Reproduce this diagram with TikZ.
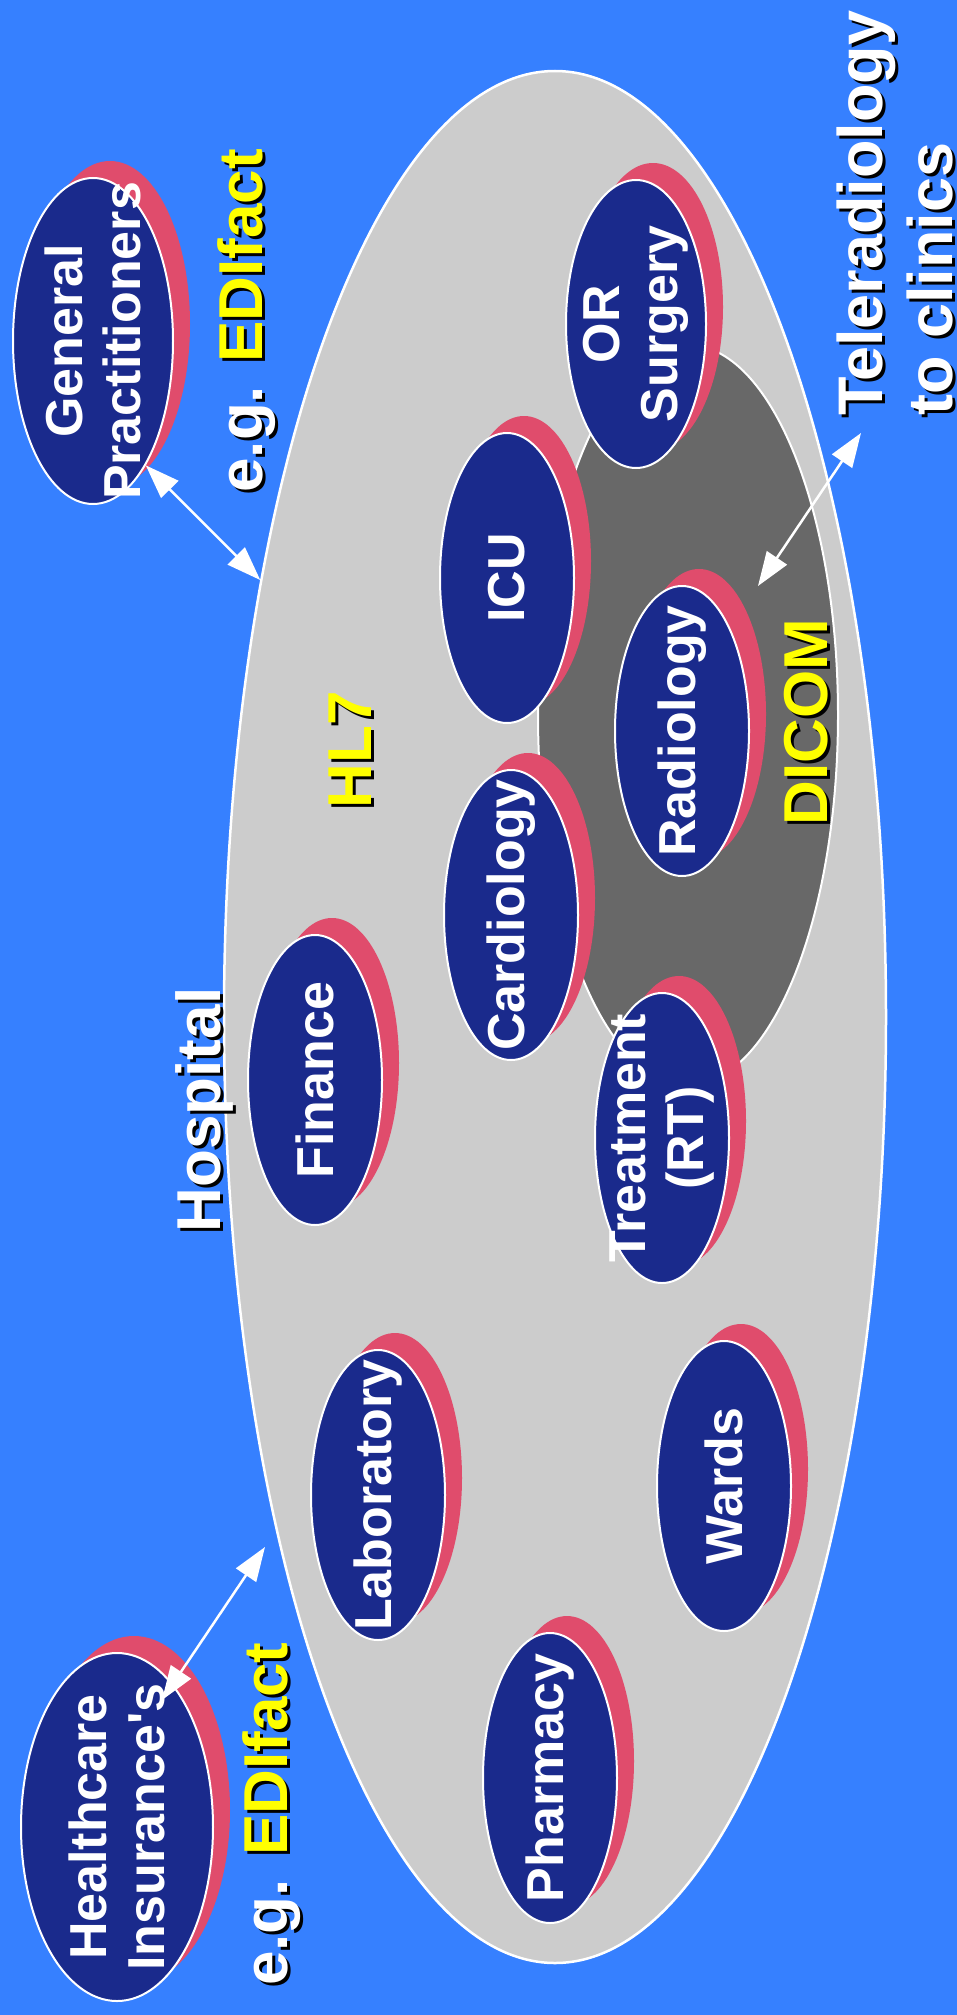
\documentclass[tikz,border=0pt]{standalone}
\usepackage{fontspec}
\setmainfont{Liberation Sans}
\usetikzlibrary{shapes.geometric,shadows,arrows.meta}

\definecolor{bgblue}{RGB}{54,128,255}
\definecolor{hospgray}{RGB}{204,204,204}
\definecolor{dicomgray}{RGB}{104,104,104}
\definecolor{deptblue}{RGB}{26,42,140}
\definecolor{deptpink}{RGB}{224,76,108}
\definecolor{tagyellow}{RGB}{255,255,0}

\newcommand{\deptfont}{\fontsize{52}{58}\selectfont\bfseries}
\newcommand{\tagfont}{\fontsize{62}{70}\selectfont\bfseries}

\tikzset{
	dept/.style={ellipse, fill=deptblue, draw=white, line width=2pt, inner sep=0pt,
		minimum width=134pt, minimum height=290pt,
		general shadow={fill=deptpink, shadow xshift=17pt, shadow yshift=17pt}},
	depttext/.style={rotate=90, text=white, font=\deptfont, align=center, inner sep=0pt},
	tag/.style={rotate=90, text=white, font=\tagfont, anchor=base, inner sep=0pt},
	tagshade/.style={tag, text=black},
	link/.style={<->, white, line width=2.5pt},
}

\begin{document}
\begin{tikzpicture}[x=1pt, y=-1pt, >={Triangle[length=34pt, width=24pt]}]
	\useasboundingbox (0,0) rectangle (957,2015);
	\fill[bgblue] (0,0) rectangle (957,2015);
	% hospital and DICOM area
	\node[ellipse, fill=hospgray, draw=white, line width=2.5pt, inner sep=0pt, minimum width=662pt, minimum height=1892pt] (hospital) at (555,1017) {};
	\node[ellipse, fill=dicomgray, draw=white, line width=2pt, inner sep=0pt, minimum width=300pt, minimum height=740pt] (dicom) at (688,715) {};
	% departments
	\node[dept, minimum width=160pt, minimum height=326pt] (gp) at (93,341) {};
	\node[depttext] (gp text) at (gp) {General\\Practitioners};
	\node[dept, minimum width=192pt, minimum height=348pt] (ins) at (117,1827) {};
	\node[depttext] (ins text) at (ins) {Healthcare\\Insurance\textquotesingle s};
	\node[dept, minimum width=140pt, minimum height=288pt] (or) at (636,324) {};
	\node[depttext] (or text) at (or) {OR\\Surgery};
	\node[dept] (icu) at (507,578) {};
	\node[depttext] (icu text) at (icu) {ICU};
	\node[dept] (radio) at (682,731) {};
	\node[depttext] (radio text) at (radio) {Radiology};
	\node[dept] (cardio) at (511,915) {};
	\node[depttext] (cardio text) at (cardio) {Cardiology};
	\node[dept] (finance) at (315,1080) {};
	\node[depttext] (finance text) at (finance) {Finance};
	\node[dept] (rt) at (662,1138) {};
	\node[depttext] (rt text) at (rt) {Treatment\\(RT)};
	\node[dept] (lab) at (378,1495) {};
	\node[depttext] (lab text) at (lab) {Laboratory};
	\node[dept] (wards) at (724,1486) {};
	\node[depttext] (wards text) at (wards) {Wards};
	\node[dept] (pharma) at (550,1778) {};
	\node[depttext] (pharma text) at (pharma) {Pharmacy};
	% labels with drop shadow
	\node[tagshade] at (223,1113) {Hospital};
	\node[tag] (hosp label) at (220,1110) {Hospital};
	\node[tagshade] at (374,753) {HL7};
	\node[tag, text=tagyellow] (hl7) at (371,750) {HL7};
	\node[tagshade] at (830,725) {DICOM};
	\node[tag, text=tagyellow] (dicom label) at (827,722) {DICOM};
	\node[tagshade] at (265,324) {e.g. EDIfact};
	\node[tag] (edi gp) at (262,321) {e.g. \textcolor{tagyellow}{EDIfact}};
	\node[tagshade] at (290,1817) {e.g. EDIfact};
	\node[tag] (edi ins) at (287,1814) {e.g. \textcolor{tagyellow}{EDIfact}};
	\node[tagshade, anchor=north west, align=left, font=\fontsize{63}{70}\selectfont\bfseries] at (840,419) {Teleradiology\\to clinics};
	\node[tag, anchor=north west, align=left, font=\fontsize{63}{70}\selectfont\bfseries] (tele) at (837,416) {Teleradiology\\to clinics};
	% links
	\coordinate (ins tip) at (162,1700);
	\coordinate (hosp gap) at (265,1547);
	\coordinate (radio tip) at (758,586);
	\coordinate (tele tip) at (861,433);
	\draw[link] (gp.-67) -- (hospital.124);
	\draw[link] (ins tip) -- (hosp gap);
	\draw[link] (radio tip) -- (tele tip);
\end{tikzpicture}
\end{document}
